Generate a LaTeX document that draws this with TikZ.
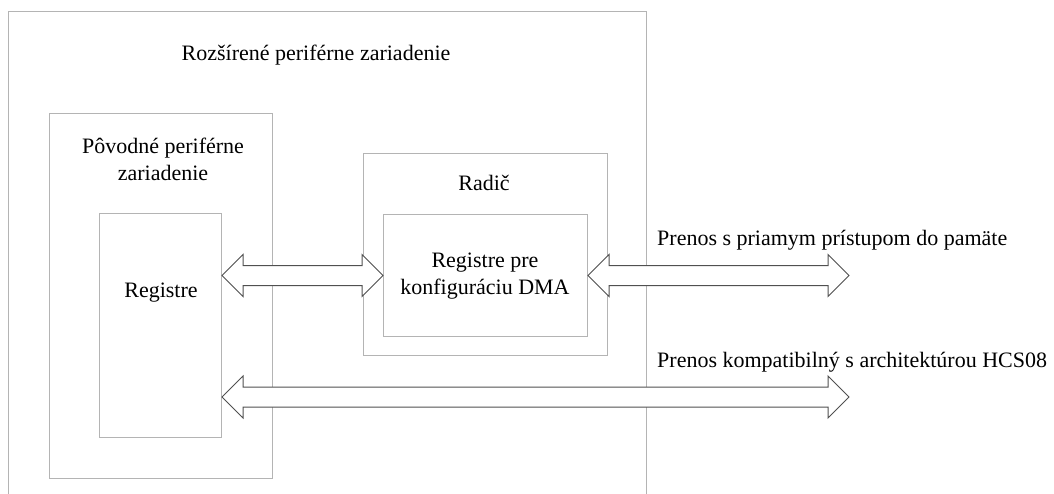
\documentclass[tikz,border=0pt]{standalone}
\usepackage{fontspec}
\setmainfont{Liberation Serif}
\usetikzlibrary{calc}
\definecolor{boxgray}{RGB}{180,180,180}
\definecolor{busgray}{RGB}{80,80,80}
\tikzset{
  frame/.style={draw=boxgray, line width=1pt, inner sep=0pt, anchor=north west},
  lbl/.style={font=\fontsize{22}{27}\selectfont, align=center, text=black, inner sep=0pt},
  side/.style={lbl, anchor=base west, align=left},
  bus/.style={draw=busgray, fill=white, line width=1pt, line join=miter},
}
% double (bus) arrow from tip #1 to tip #2 (same height)
\newcommand\busarrow[2]{%
  \draw[bus] let \p1=(#1), \p2=(#2) in
    (\x1,\y1) -- ++(21,-21) -- ++(0,11) -- (\x2-21pt,\y1+10pt) -- ++(0,-11)
    -- (\x2,\y1) -- ++(-21,21) -- ++(0,-11) -- (\x1+21pt,\y1-10pt) -- ++(0,11) -- cycle;
}
\begin{document}
\begin{tikzpicture}[x=1pt,y=-1pt]
  \clip (0,0) rectangle (1054,493);
  \fill[white] (0,0) rectangle (1054,493);
  % boxes
  \node[frame, minimum width=638, minimum height=540] (outer) at (8,11) {};
  \node[frame, minimum width=223, minimum height=365] (orig) at (49,113) {};
  \node[frame, minimum width=122, minimum height=224] (reg) at (99,213) {};
  \node[frame, minimum width=244, minimum height=202] (radic) at (363,153) {};
  \node[frame, minimum width=204, minimum height=122] (dma) at (383,214) {};
  % labels
  \node[lbl, anchor=base] (tOuter) at (316,60) {Rozšírené periférne zariadenie};
  \node[lbl] (tOrig) at (163,159.5) {Pôvodné periférne\\zariadenie};
  \node[lbl, anchor=base] (tReg) at (161,297) {Registre};
  \node[lbl, anchor=base] (tRadic) at (484,190) {Radič};
  \node[lbl] (tDma) at (485,276) {Registre pre\\konfiguráciu DMA};
  \node[side] (tDmaBus) at (657,245) {Prenos s priamym prístupom do pamäte};
  \node[side] (tHcsBus) at (657,367) {Prenos kompatibilný s architektúrou HCS08};
  % bus end points
  \coordinate (endA) at (849,275);
  \coordinate (endB) at (849,397);
  % buses
  \busarrow{reg.east |- dma.west}{dma.west}
  \busarrow{dma.east}{endA}
  \busarrow{reg.east |- endB}{endB}
\end{tikzpicture}
\end{document}
